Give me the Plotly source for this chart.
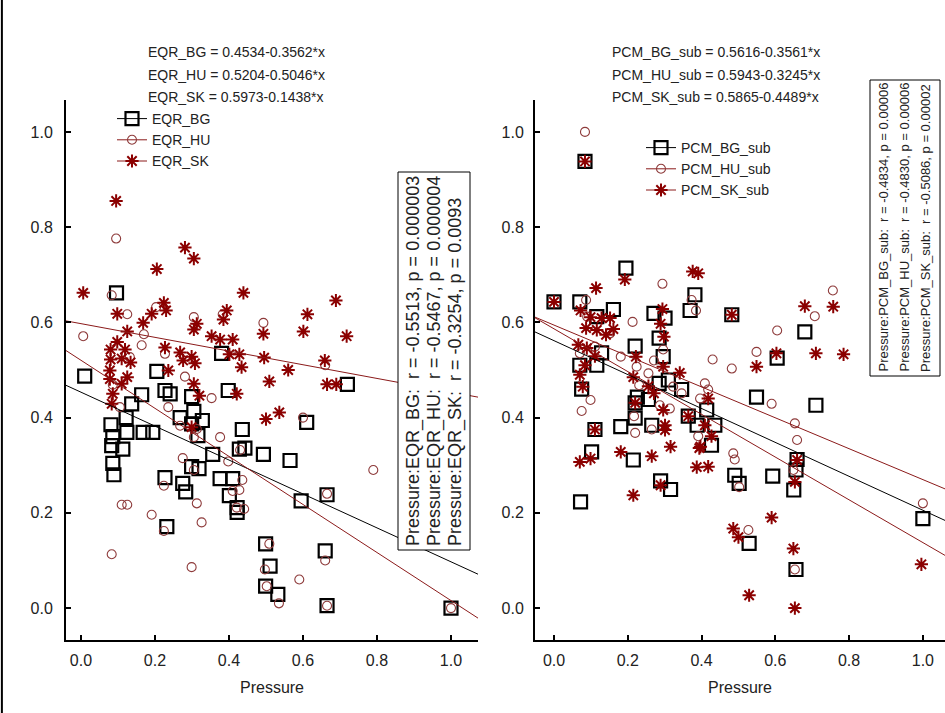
import plotly.graph_objects as go

# ---------------- data ----------------
left_bg_x = [0.01,0.081,0.086,0.083,0.113,0.086,0.089,0.122,0.124,0.137,0.164,0.168,0.194,0.205,0.227,0.241,0.227,0.232,0.268,0.275,0.283,0.299,0.305,0.299,0.328,0.316,0.299,0.319,0.356,0.398,0.436,0.428,0.443,0.376,0.41,0.401,0.422,0.422,0.493,0.499,0.511,0.499,0.532,0.096,0.38,0.565,0.595,0.665,0.66,0.665,0.72,1.0,0.61]
left_bg_y = [0.487,0.385,0.36,0.341,0.334,0.304,0.28,0.40,0.369,0.429,0.448,0.369,0.369,0.497,0.457,0.45,0.274,0.171,0.40,0.262,0.244,0.444,0.413,0.387,0.394,0.362,0.297,0.293,0.323,0.457,0.375,0.334,0.336,0.272,0.272,0.236,0.211,0.201,0.323,0.135,0.088,0.046,0.029,0.662,0.535,0.31,0.225,0.238,0.12,0.005,0.47,0.0,0.39]

left_hu_x = [0.095,0.083,0.125,0.006,0.17,0.164,0.203,0.227,0.305,0.132,0.493,0.383,0.086,0.105,0.236,0.281,0.353,0.268,0.313,0.305,0.376,0.275,0.305,0.398,0.43,0.436,0.41,0.428,0.421,0.441,0.224,0.11,0.125,0.191,0.313,0.326,0.224,0.083,0.299,0.509,0.497,0.502,0.6,0.79,0.59,0.535,0.66,0.665,0.665,1.0,0.66]
left_hu_y = [0.776,0.657,0.617,0.571,0.575,0.552,0.632,0.534,0.611,0.527,0.599,0.617,0.469,0.422,0.422,0.486,0.441,0.383,0.376,0.359,0.359,0.315,0.29,0.308,0.332,0.269,0.246,0.248,0.211,0.208,0.257,0.217,0.217,0.196,0.22,0.18,0.162,0.113,0.086,0.135,0.081,0.046,0.40,0.29,0.06,0.01,0.10,0.24,0.005,0.0,0.51]

left_sk_x = [0.095,0.006,0.205,0.281,0.305,0.098,0.224,0.23,0.191,0.168,0.125,0.313,0.305,0.098,0.08,0.119,0.08,0.11,0.134,0.227,0.268,0.276,0.299,0.308,0.353,0.439,0.689,0.612,0.394,0.385,0.493,0.601,0.718,0.376,0.41,0.401,0.428,0.495,0.659,0.434,0.078,0.078,0.11,0.125,0.086,0.083,0.236,0.305,0.32,0.421,0.509,0.5,0.299,0.536,0.56,0.665,0.69]
left_sk_y = [0.855,0.662,0.712,0.757,0.734,0.618,0.641,0.625,0.618,0.599,0.581,0.597,0.585,0.559,0.543,0.543,0.522,0.524,0.516,0.547,0.537,0.52,0.528,0.514,0.571,0.662,0.646,0.617,0.625,0.606,0.576,0.581,0.571,0.564,0.564,0.533,0.533,0.526,0.52,0.506,0.499,0.481,0.471,0.485,0.45,0.429,0.499,0.471,0.446,0.45,0.476,0.397,0.38,0.411,0.50,0.47,0.47]

right_bg_x = [0.084,0.0,0.195,0.07,0.116,0.161,0.271,0.301,0.382,0.369,0.22,0.129,0.07,0.116,0.285,0.296,0.31,0.346,0.226,0.075,0.111,0.102,0.072,0.181,0.22,0.215,0.265,0.256,0.22,0.289,0.316,0.285,0.364,0.388,0.482,0.68,0.605,0.549,0.71,0.414,0.436,0.427,0.49,0.502,0.593,0.659,0.656,0.65,0.529,0.656,1.0]
right_bg_y = [0.938,0.643,0.714,0.643,0.612,0.627,0.619,0.609,0.658,0.625,0.55,0.536,0.51,0.51,0.567,0.528,0.479,0.459,0.443,0.46,0.375,0.328,0.223,0.381,0.399,0.311,0.384,0.438,0.431,0.267,0.249,0.472,0.403,0.384,0.616,0.58,0.525,0.443,0.426,0.416,0.384,0.342,0.279,0.262,0.277,0.312,0.29,0.248,0.136,0.081,0.188]

right_hu_x = [0.084,0.087,0.294,0.213,0.373,0.385,0.152,0.09,0.07,0.111,0.181,0.224,0.271,0.296,0.256,0.231,0.323,0.346,0.099,0.396,0.075,0.217,0.22,0.265,0.287,0.314,0.391,0.707,0.605,0.549,0.43,0.482,0.59,0.409,0.418,0.653,0.659,0.486,0.49,0.502,0.649,0.527,0.653,1.0,0.756]
right_hu_y = [1.0,0.647,0.681,0.601,0.647,0.625,0.577,0.612,0.535,0.549,0.528,0.507,0.52,0.543,0.493,0.468,0.465,0.451,0.437,0.44,0.414,0.403,0.368,0.375,0.426,0.419,0.361,0.613,0.583,0.538,0.522,0.503,0.429,0.472,0.459,0.388,0.353,0.325,0.312,0.254,0.29,0.164,0.081,0.22,0.667]

right_sk_x = [0.084,0.0,0.114,0.192,0.072,0.099,0.129,0.152,0.087,0.116,0.161,0.141,0.066,0.089,0.111,0.084,0.07,0.078,0.294,0.289,0.298,0.222,0.296,0.341,0.215,0.256,0.271,0.376,0.391,0.22,0.296,0.301,0.301,0.111,0.181,0.265,0.316,0.07,0.099,0.215,0.289,0.364,0.387,0.394,0.68,0.482,0.71,0.603,0.549,0.418,0.409,0.427,0.397,0.418,0.659,0.653,0.59,0.486,0.5,0.649,0.529,0.653,0.996,0.757,0.785]
right_sk_y = [0.938,0.643,0.672,0.69,0.625,0.611,0.609,0.609,0.588,0.584,0.586,0.574,0.553,0.546,0.529,0.51,0.49,0.465,0.628,0.597,0.57,0.528,0.507,0.494,0.485,0.466,0.451,0.707,0.703,0.431,0.416,0.384,0.374,0.375,0.328,0.319,0.339,0.307,0.314,0.237,0.258,0.403,0.296,0.336,0.634,0.616,0.535,0.535,0.507,0.44,0.384,0.361,0.339,0.297,0.311,0.265,0.19,0.167,0.149,0.125,0.027,0.0,0.092,0.633,0.533]

left_names = ["EQR_BG", "EQR_HU", "EQR_SK"]
left_intercepts = [0.4534, 0.5204, 0.5973]
left_slopes = [-0.3562, -0.5046, -0.1438]
left_r = ["-0.5513", "-0.5467", "-0.3254"]
left_p = ["0.000003", "0.000004", "0.0093"]

right_names = ["PCM_BG_sub", "PCM_HU_sub", "PCM_SK_sub"]
right_intercepts = [0.5616, 0.5943, 0.5865]
right_slopes = [-0.3561, -0.3245, -0.4489]
right_r = ["-0.4834", "-0.4830", "-0.5086"]
right_p = ["0.00006", "0.00006", "0.00002"]

x_tick_vals = [0.0, 0.2, 0.4, 0.6, 0.8, 1.0]
y_tick_vals = [0.0, 0.2, 0.4, 0.6, 0.8, 1.0]
x_title = "Pressure"

# ---------------- styles ----------------
FONT = "Liberation Sans, Arial, sans-serif"
BG_COL = "black"
HU_COL = "#8e3b3b"
SK_COL = "#8b0000"
LINE_RED = "#8b1a1a"

marker_styles = [
    dict(symbol="square-open", size=13, color=BG_COL, line=dict(width=2.2, color=BG_COL)),
    dict(symbol="circle-open", size=9, color=HU_COL, line=dict(width=1.1, color=HU_COL)),
    dict(symbol="asterisk-open", size=11, color=SK_COL, line=dict(width=2, color=SK_COL)),
]
line_colors = [BG_COL, LINE_RED, LINE_RED]

left_xrange = [-0.0405, 1.073]
right_xrange = [-0.0515, 1.060]
yrange = [-0.067, 1.067]

fig = go.Figure()

def add_panel(xs, ys, names, icpts, slopes, xaxis, yaxis, xr, legend):
    for i in range(3):
        fig.add_trace(go.Scatter(
            x=xs[i], y=ys[i], mode="markers", marker=marker_styles[i],
            xaxis=xaxis, yaxis=yaxis, showlegend=False, cliponaxis=False))
    for i in range(3):
        lx = [xr[0], xr[1]]
        ly = [icpts[i] + slopes[i] * v for v in lx]
        fig.add_trace(go.Scatter(
            x=lx, y=ly, mode="lines", line=dict(color=line_colors[i], width=1),
            xaxis=xaxis, yaxis=yaxis, showlegend=False, hoverinfo="skip"))
    for i in range(3):
        fig.add_trace(go.Scatter(
            x=[None], y=[None], mode="lines+markers", name=names[i],
            marker=marker_styles[i], line=dict(color=line_colors[i], width=1),
            xaxis=xaxis, yaxis=yaxis, legend=legend))

add_panel([left_bg_x, left_hu_x, left_sk_x], [left_bg_y, left_hu_y, left_sk_y],
          left_names, left_intercepts, left_slopes, "x", "y", left_xrange, "legend")
add_panel([right_bg_x, right_hu_x, right_sk_x], [right_bg_y, right_hu_y, right_sk_y],
          right_names, right_intercepts, right_slopes, "x2", "y2", right_xrange, "legend2")

W, H = 945, 713
def px(v): return v / W
def py(v): return 1 - v / H

axis_common = dict(
    showline=True, linecolor="black", linewidth=2, mirror=False,
    showgrid=False, zeroline=False, ticks="inside", ticklen=5, tickwidth=1.5,
    tickcolor="black", tickfont=dict(family=FONT, size=16, color="#222"),
)

fig.update_layout(
    width=W, height=H, margin=dict(l=0, r=0, t=0, b=0),
    paper_bgcolor="white", plot_bgcolor="white",
    font=dict(family=FONT, color="#222"),
    xaxis=dict(domain=[px(66), px(478)], range=left_xrange, tickvals=x_tick_vals,
               tickformat=".1f", anchor="y", ticklabelstandoff=5,
               title=dict(text=x_title, font=dict(family=FONT, size=16, color="#222"), standoff=14),
               **axis_common),
    yaxis=dict(domain=[py(640), py(100)], range=yrange, tickvals=y_tick_vals,
               tickformat=".1f", anchor="x", ticklabelstandoff=8, **axis_common),
    xaxis2=dict(domain=[px(535), 1.0], range=right_xrange, tickvals=x_tick_vals,
                tickformat=".1f", anchor="y2", ticklabelstandoff=5,
                title=dict(text=x_title, font=dict(family=FONT, size=16, color="#222"), standoff=14),
                **axis_common),
    yaxis2=dict(domain=[py(640), py(100)], range=yrange, tickvals=y_tick_vals,
                tickformat=".1f", anchor="x2", ticklabelstandoff=6, **axis_common),
    legend=dict(x=px(112), y=py(103), xanchor="left", yanchor="top",
                bgcolor="rgba(0,0,0,0)", font=dict(family=FONT, size=14, color="#222"),
                itemwidth=30, tracegroupgap=0),
    legend2=dict(x=px(641), y=py(132), xanchor="left", yanchor="top",
                 bgcolor="rgba(0,0,0,0)", font=dict(family=FONT, size=14, color="#222"),
                 itemwidth=30, tracegroupgap=0),
)

# equations
eq_rows = [52, 75, 97]
for i in range(3):
    fig.add_annotation(xref="paper", yref="paper", x=px(146), y=py(eq_rows[i]),
                       xanchor="left", yanchor="middle", showarrow=False,
                       text=f"{left_names[i]} = {left_intercepts[i]:.4f}{left_slopes[i]:.4f}*x",
                       font=dict(family=FONT, size=14, color="#222"))
    fig.add_annotation(xref="paper", yref="paper", x=px(610), y=py(eq_rows[i]),
                       xanchor="left", yanchor="middle", showarrow=False,
                       text=f"{right_names[i]} = {right_intercepts[i]:.4f}{right_slopes[i]:.4f}*x",
                       font=dict(family=FONT, size=14, color="#222"))

NB = "\u00a0"
def box_lines(names, rs, ps):
    return [f"Pressure:{names[i]}:{NB}{NB}r = {rs[i]}, p = {ps[i]}" for i in range(3)]

def add_box(lines, x0, x1, y0, y1, line_x, font_size):
    fig.add_shape(type="rect", xref="paper", yref="paper",
                  x0=px(x0), x1=px(x1), y0=py(y1), y1=py(y0),
                  fillcolor="white", line=dict(color="black", width=1), layer="above")
    for i, t in enumerate(lines):
        fig.add_annotation(xref="paper", yref="paper", x=px(line_x[i]), y=py(y1 - 3),
                           xanchor="center", yanchor="bottom", showarrow=False,
                           textangle=-90, text=t, borderpad=0,
                           font=dict(family=FONT, size=font_size, color="#222"))

add_box(box_lines(left_names, left_r, left_p), 398, 470, 172, 550, [413, 434, 455], 18)
add_box(box_lines(right_names, right_r, right_p), 870, 940, 80, 376, [883, 904, 925], 13)

fig.add_shape(type="line", xref="paper", yref="paper", x0=0.002, x1=0.002, y0=0, y1=1,
              line=dict(color="black", width=2))

fig.write_html("out.html")
